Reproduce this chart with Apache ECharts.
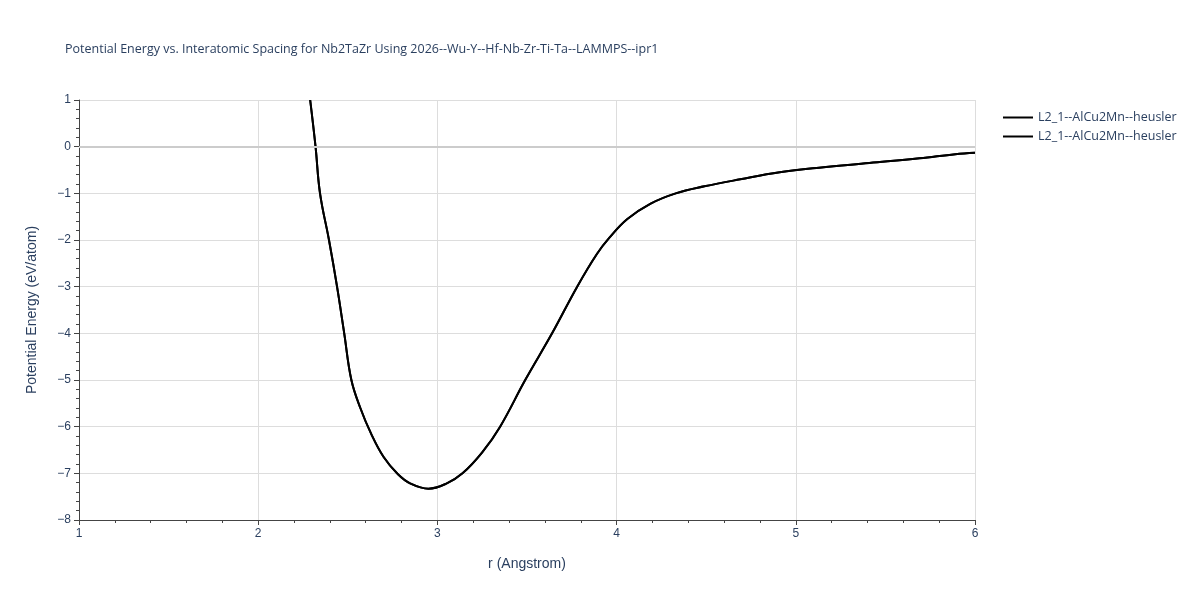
<!DOCTYPE html>
<html>
<head>
<meta charset="utf-8">
<script src="https://cdn.jsdelivr.net/npm/echarts@6/dist/echarts.min.js"></script>
</head>
<body style="margin:0">
<div id="main" style="width:1200px;height:600px"></div>
<script>
var rVals = [2.29, 2.32, 2.345, 2.395, 2.44, 2.48, 2.52, 2.57, 2.63, 2.70, 2.78, 2.85, 2.95, 3.05, 3.14, 3.25, 3.35, 3.49, 3.64, 3.78, 3.89, 3.96, 4.06, 4.19, 4.33, 4.49, 4.69, 4.91, 5.13, 5.41, 5.69, 5.89, 6.0];
var eVals = [1, 0, -1, -2, -3, -4, -5, -5.6, -6.15, -6.65, -7.02, -7.22, -7.33, -7.22, -7, -6.55, -6, -5, -4, -3, -2.3, -1.95, -1.55, -1.22, -1, -0.85, -0.7, -0.55, -0.45, -0.35, -0.25, -0.16, -0.13];
var seriesNames = ['L2_1--AlCu2Mn--heusler', 'L2_1--AlCu2Mn--heusler '];

var chart = echarts.init(document.getElementById('main'));
var pts = rVals.map(function (r, i) { return [r, eVals[i]]; });
var fmt = function (v) { return v < 0 ? '\u2212' + (-v) : String(v); };

chart.setOption({
    title: {
        text: 'Potential Energy vs. Interatomic Spacing for Nb2TaZr Using 2026--Wu-Y--Hf-Nb-Zr-Ti-Ta--LAMMPS--ipr1',
        left: 60, top: 38,
        textStyle: { fontSize: 12.5, fontWeight: 'normal', color: '#2a3f5f', fontFamily: 'Open Sans, sans-serif' }
    },
    legend: {
        orient: 'vertical', left: 998, top: 106, itemGap: 6,
        itemWidth: 30, icon: 'path://M0,0H30V2H0Z',
        data: seriesNames,
        formatter: function (n) { return n.trim(); },
        textStyle: { fontSize: 12.5, color: '#2a3f5f', fontFamily: 'Open Sans, sans-serif' }
    },
    grid: { left: 79, right: 225, top: 100, bottom: 80 },
    xAxis: {
        type: 'value', min: 1, max: 6, interval: 1,
        name: 'r (Angstrom)', nameLocation: 'middle', nameGap: 37,
        nameTextStyle: { fontSize: 14, color: '#2a3f5f' },
        axisLine: { show: true, onZero: false, lineStyle: { color: '#444' } },
        axisTick: { show: true, length: 5, lineStyle: { color: '#444' } },
        minorTick: { show: true, splitNumber: 5, length: 3, lineStyle: { color: '#444' } },
        axisLabel: { color: '#2a3f5f', fontSize: 12 },
        splitLine: { lineStyle: { color: '#ddd' } }
    },
    yAxis: {
        type: 'value', min: -8, max: 1, interval: 1,
        name: 'Potential Energy (eV/atom)', nameLocation: 'middle', nameGap: 40,
        nameTextStyle: { fontSize: 14, color: '#2a3f5f' },
        axisLine: { show: true, lineStyle: { color: '#444' } },
        axisTick: { show: true, length: 5, lineStyle: { color: '#444' } },
        minorTick: { show: true, splitNumber: 5, length: 3, lineStyle: { color: '#444' } },
        axisLabel: { color: '#2a3f5f', fontSize: 12, formatter: fmt },
        splitLine: { lineStyle: { color: '#ddd' } }
    },
    series: seriesNames.map(function (n, k) {
        return {
            name: n, type: 'line', smooth: 0.4, showSymbol: false,
            lineStyle: { color: '#000', width: 2 }, itemStyle: { color: '#000' },
            data: pts,
            markLine: k === 0 ? {
                silent: true, symbol: 'none', label: { show: false },
                lineStyle: { color: '#ccc', type: 'solid', width: 2 },
                data: [{ yAxis: 0 }]
            } : undefined
        };
    })
});
</script>
</body>
</html>
